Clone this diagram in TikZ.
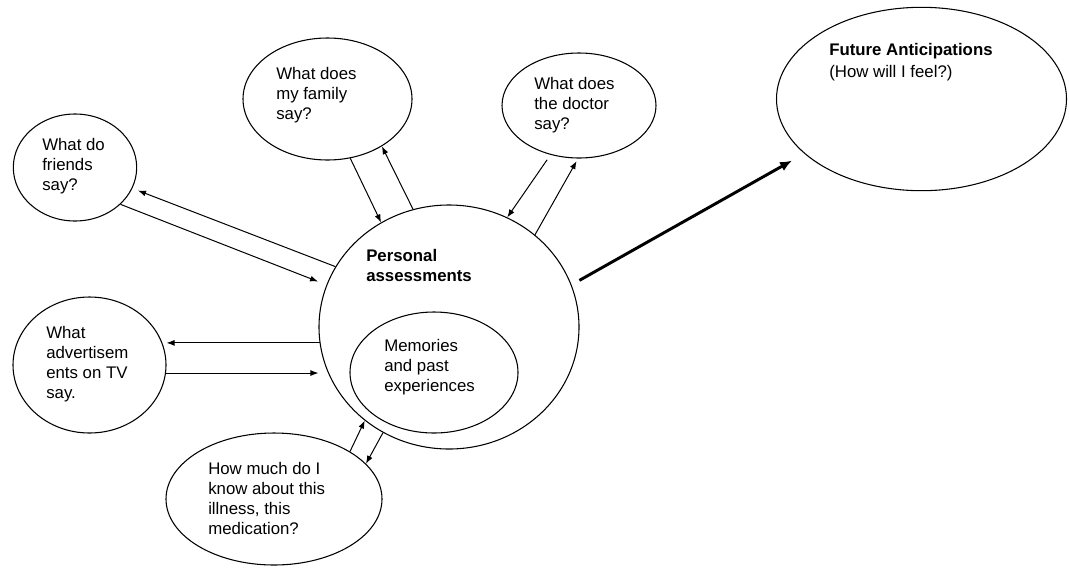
\documentclass[tikz,border=0pt]{standalone}
\usepackage{fontspec}
\setmainfont{Liberation Sans}
\usetikzlibrary{shapes.geometric,arrows.meta}
\begin{document}
\begin{tikzpicture}[x=0.75pt,y=-0.75pt,
  ell/.style 2 args={ellipse,draw,line width=0.8pt,inner sep=0pt,
    minimum width=#1*0.75pt,minimum height=#2*0.75pt},
  txt/.style={anchor=base west,align=left,inner sep=0pt,
    font=\fontsize{12.6pt}{15pt}\selectfont},
  btxt/.style={txt,font=\fontsize{12.6pt}{15.5pt}\selectfont\bfseries},
  futxt/.style={txt,font=\fontsize{12.6pt}{16.5pt}\selectfont},
  arr/.style={-{Latex[length=6pt,width=4.5pt]},line width=0.75pt},
  bigarr/.style={-{Latex[length=9pt,width=7.5pt]},line width=2.2pt}]
\useasboundingbox (0,0) rectangle (1069,568);

% ellipses
\node[ell={260}{244}] (P) at (449,327) {};
\node[ell={168}{121}] (M) at (434,372.5) {};
\node[ell={123.4}{107}] (F) at (75,167.5) {};
\node[ell={169}{122}] (Fa) at (327.5,99) {};
\node[ell={154}{105}] (D) at (579,105.5) {};
\node[ell={290}{183.4}] (Fu) at (921.5,99) {};
\node[ell={153}{136}] (A) at (89.5,365) {};
\node[ell={216}{132}] (H) at (274,499) {};

% texts (anchored at the baseline of the last line)
\node[txt] (Ft) at (42,190) {What do\\friends\\say?};
\node[txt] (Fat) at (276,119) {What does\\my family\\say?};
\node[txt] (Dt) at (534,129) {What does\\the doctor\\say?};
\node[txt] (At) at (46,398) {What\\advertisem\\ents on TV\\say.};
\node[txt] (Ht) at (208,534) {How much do I\\know about this\\illness, this\\medication?};
\node[btxt] (Pt) at (366,281.7) {Personal\\assessments};
\node[txt] (Mt) at (384,391) {Memories\\and past\\experiences};
\node[futxt] (Fut) at (829,77) {\textbf{Future Anticipations}\\(How will I feel?)};

% connectors
\draw[arr,shorten >=4.5pt] (P.152.1) -- (F.-20.8);
\draw[arr,shorten >=6.75pt] (F.-39.9) -- (P.161);
\draw[arr] (Fa.-69.8) -- (P.123.7);
\draw[arr] (P.107.6) -- (Fa.-41.4);
\draw[arr,shorten <=4.5pt] (D.-120.4) -- (P.62.8);
\draw[arr,shorten >=2.25pt] (P.47.2) -- (D.-91);
\draw[arr] (P.187.1) -- (P.187.1 -| A.east);
\draw[arr] (A.-6.7) -- (A.-6.7 -| P.west);
\draw[arr] (H.32.8) -- (P.-132.4);
\draw[arr] (P.-122.2) -- (H.21.5);
\draw[bigarr,shorten <=6.75pt,shorten >=10.5pt] (P.19) -- (Fu.205.8);
\end{tikzpicture}
\end{document}
